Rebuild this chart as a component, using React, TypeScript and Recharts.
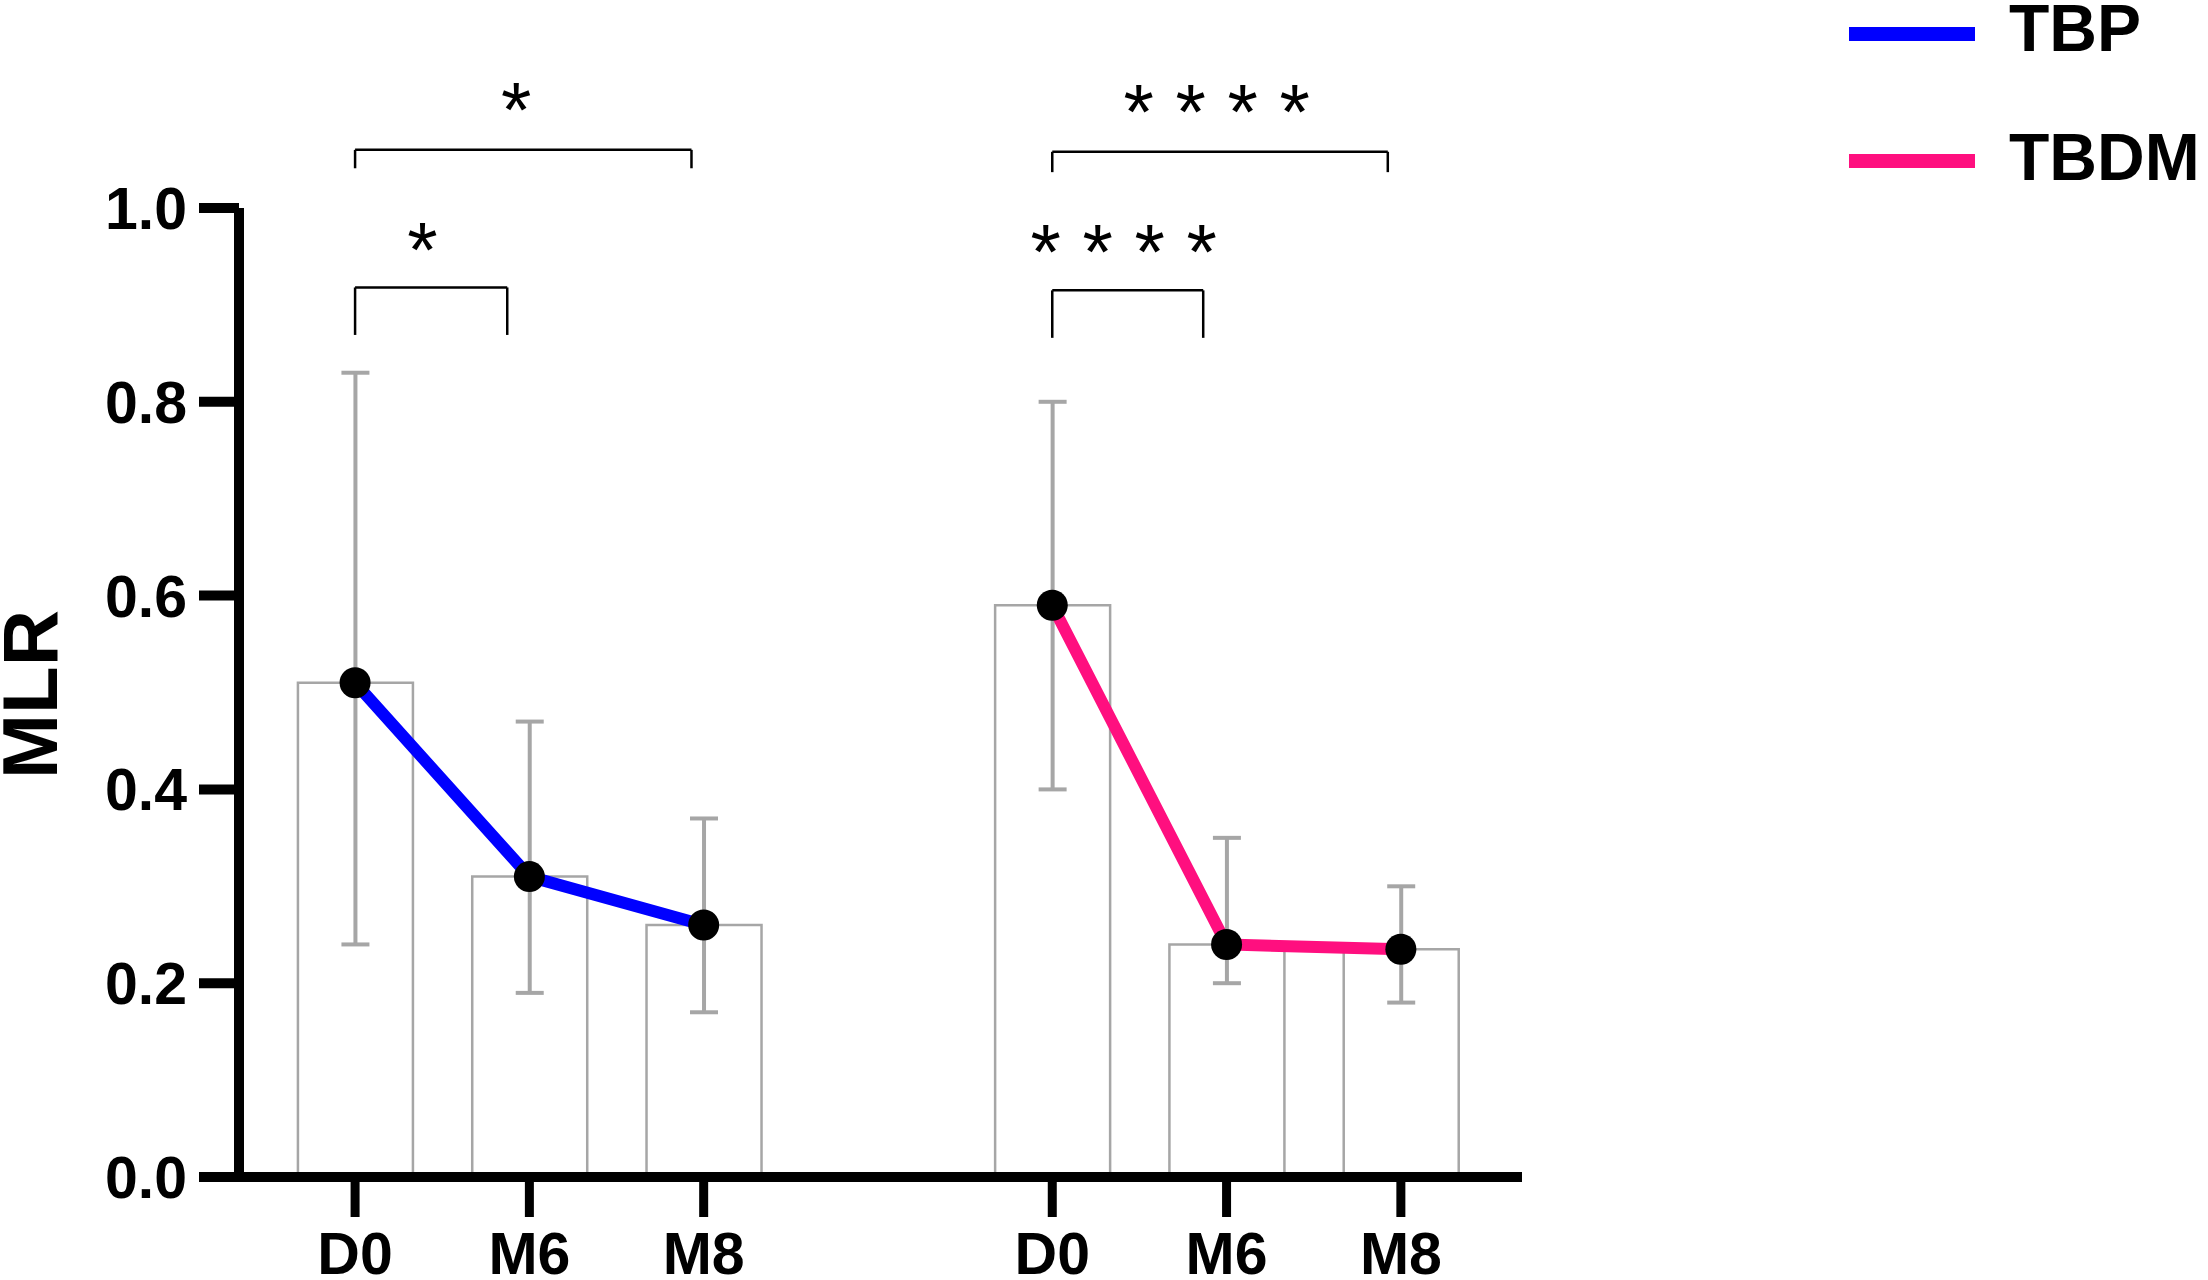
import React from "react";
import {
    ComposedChart,
    Bar,
    Line,
    ErrorBar,
    XAxis,
    YAxis,
    Legend,
    ReferenceLine,
    ReferenceDot,
} from "recharts";

// time points, two groups of three with an empty slot between them
const slotPositions = [0, 1, 2, 4, 5, 6];
const timeLabels = ["D0", "M6", "M8", "D0", "M6", "M8"];
const seriesNames = ["TBP", "TBDM"];

// TBP group
const tbpMean = [0.51, 0.31, 0.26];
const tbpUpper = [0.83, 0.47, 0.37];
const tbpLower = [0.24, 0.19, 0.17];

// TBDM group
const tbdmMean = [0.59, 0.24, 0.235];
const tbdmUpper = [0.8, 0.35, 0.3];
const tbdmLower = [0.4, 0.2, 0.18];

const yTicks = [0, 0.2, 0.4, 0.6, 0.8, 1.0];

// significance brackets (data coordinates)
const brackets = [
    { from: 0, to: 0.873, top: 0.918, foot: 0.869, label: "*", labelX: 0.387, labelY: 0.975 },
    { from: 0, to: 1.93, top: 1.06, foot: 1.041, label: "*", labelX: 0.924, labelY: 1.119 },
    { from: 4, to: 4.866, top: 0.915, foot: 0.866, label: "* * * *", labelX: 4.41, labelY: 0.973 },
    { from: 4, to: 5.925, top: 1.058, foot: 1.037, label: "* * * *", labelX: 4.943, labelY: 1.117 },
];

const FONT = "'Liberation Sans', Arial, Helvetica, sans-serif";
const BLUE = "#0000FF";
const PINK = "#FF0F7F";
const GREY = "#A6A6A6";

const means = [...tbpMean, ...tbdmMean];
const uppers = [...tbpUpper, ...tbdmUpper];
const lowers = [...tbpLower, ...tbdmLower];

const data = slotPositions.map((x, i) => ({
    x,
    mean: means[i],
    err: [means[i] - lowers[i], uppers[i] - means[i]],
    tbp: i < 3 ? tbpMean[i] : null,
    tbdm: i >= 3 ? tbdmMean[i - 3] : null,
}));

const renderLegend = (props: any) => {
    const items = (props.payload || [])
        .filter((p: any) => p.type !== "none")
        .sort((a: any, b: any) => seriesNames.indexOf(a.value) - seriesNames.indexOf(b.value));
    return (
        <svg width={368} height={200}>
            {items.map((entry: any, i: number) => (
                <g key={entry.value}>
                    <line x1={9} x2={135} y1={34 + 127 * i} y2={34 + 127 * i} stroke={entry.color} strokeWidth={14} />
                    <text x={169} y={51 + 129 * i} fontSize={66} fontWeight={700} fontFamily={FONT} fill="#000">
                        {entry.value}
                    </text>
                </g>
            ))}
        </svg>
    );
};

const renderYTitle = (props: any) => {
    const vb = props.viewBox || { x: 0, y: 208, height: 969 };
    const cx = vb.x + 29;
    const cy = vb.y + vb.height / 2 + 2;
    return (
        <text
            x={cx}
            y={cy + 28}
            transform={`rotate(-90, ${cx}, ${cy})`}
            textAnchor="middle"
            fontSize={78}
            fontWeight={700}
            fontFamily={FONT}
            fill="#000"
        >
            MLR
        </text>
    );
};

export default function App() {
    return (
        <div style={{ position: "absolute", left: 0, top: 0, width: 2208, height: 1280, background: "#fff" }}>
            <ComposedChart width={2208} height={1280} data={data} margin={{ top: 208, right: 318, bottom: 0, left: 0 }}>
                <XAxis
                    dataKey="x"
                    type="number"
                    domain={[-0.666, 6.695]}
                    allowDataOverflow
                    ticks={slotPositions}
                    interval={0}
                    tickFormatter={(v: number) => timeLabels[slotPositions.indexOf(v)] ?? ""}
                    height={103}
                    tickSize={40}
                    tickMargin={15}
                    axisLine={{ stroke: "#000", strokeWidth: 10 }}
                    tickLine={{ stroke: "#000", strokeWidth: 9 }}
                    tick={{ fill: "#000", fontSize: 59, fontWeight: 700, fontFamily: FONT }}
                />
                <YAxis
                    type="number"
                    domain={[0, 1]}
                    allowDataOverflow
                    ticks={yTicks}
                    interval={0}
                    tickFormatter={(v: number) => v.toFixed(1)}
                    width={239}
                    tickSize={40}
                    tickMargin={12}
                    axisLine={{ stroke: "#000", strokeWidth: 10 }}
                    tickLine={{ stroke: "#000", strokeWidth: 10 }}
                    tick={{ fill: "#000", fontSize: 59, fontWeight: 700, fontFamily: FONT }}
                    label={{ value: "MLR", content: renderYTitle }}
                />
                <Legend
                    layout="vertical"
                    align="right"
                    verticalAlign="top"
                    content={renderLegend}
                    wrapperStyle={{ position: "absolute", left: 1840, top: 0, width: 368, height: 200 }}
                />
                <Bar
                    dataKey="mean"
                    barSize={115}
                    fill="#fff"
                    stroke={GREY}
                    strokeWidth={2.5}
                    legendType="none"
                    isAnimationActive={false}
                >
                    <ErrorBar dataKey="err" width={14} stroke={GREY} strokeWidth={4} direction="y" />
                </Bar>
                <Line
                    dataKey="tbp"
                    name="TBP"
                    type="linear"
                    stroke={BLUE}
                    strokeWidth={12}
                    dot={{ r: 15.5, fill: "#000", stroke: "#000", strokeWidth: 0 }}
                    activeDot={false}
                    legendType="line"
                    isAnimationActive={false}
                />
                <Line
                    dataKey="tbdm"
                    name="TBDM"
                    type="linear"
                    stroke={PINK}
                    strokeWidth={12}
                    dot={{ r: 15.5, fill: "#000", stroke: "#000", strokeWidth: 0 }}
                    activeDot={false}
                    legendType="line"
                    isAnimationActive={false}
                />
                {brackets.map((b, i) => (
                    <React.Fragment key={`br-${i}`}>
                        <ReferenceLine
                            segment={[{ x: b.from, y: b.foot }, { x: b.from, y: b.top }]}
                            stroke="#000"
                            strokeWidth={2.5}
                            ifOverflow="visible"
                        />
                        <ReferenceLine
                            segment={[{ x: b.from, y: b.top }, { x: b.to, y: b.top }]}
                            stroke="#000"
                            strokeWidth={2.5}
                            ifOverflow="visible"
                        />
                        <ReferenceLine
                            segment={[{ x: b.to, y: b.top }, { x: b.to, y: b.foot }]}
                            stroke="#000"
                            strokeWidth={2.5}
                            ifOverflow="visible"
                        />
                        <ReferenceDot
                            x={b.labelX}
                            y={b.labelY - 0.0175}
                            r={1}
                            fill="none"
                            stroke="none"
                            ifOverflow="visible"
                            label={{ value: b.label, position: "center", fontSize: 78, fill: "#000", fontFamily: FONT }}
                        />
                    </React.Fragment>
                ))}
            </ComposedChart>
        </div>
    );
}
